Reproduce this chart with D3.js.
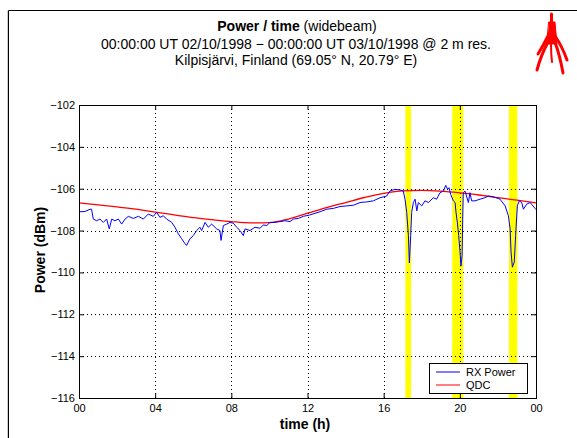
<!DOCTYPE html>
<html>
<head>
<meta charset="utf-8">
<script src="https://cdn.jsdelivr.net/npm/d3@7"></script>
<style>
  body { margin: 0; background: #fff; }
  svg { display: block; font-family: "Liberation Sans", Arial, Helvetica, sans-serif; }
</style>
</head>
<body>
<div id="chart"></div>
<script>
//------------------------DATA------------------------//
const titleLines = ["00:00:00 UT 02/10/1998 \u2212 00:00:00 UT 03/10/1998 @ 2 m res.",
                    "Kilpisj\u00e4rvi, Finland (69.05\u00b0 N, 20.79\u00b0 E)"];
const xTicks = [0, 4, 8, 12, 16, 20, 24];
const yTicks = [-116, -114, -112, -110, -108, -106, -104, -102];

// highlighted intervals (hours)
const bandStart = [17.14, 19.60, 22.58];
const bandEnd   = [17.44, 20.18, 23.02];

// QDC curve
const qdcHours = [0,1,2,3,4,5,6,7,8,9,10,11,12,13,14,15,16,17,18,19,20,21,22,23,24];
const qdcPower = [-106.68,-106.77,-106.87,-106.98,-107.12,-107.25,-107.38,-107.48,-107.57,-107.63,
                  -107.62,-107.45,-107.17,-106.90,-106.66,-106.42,-106.22,-106.10,-106.08,-106.12,
                  -106.20,-106.30,-106.43,-106.55,-106.68];

// RX power
const rxHours = [0.00,0.31,0.58,0.66,0.75,0.93,1.10,1.28,1.45,1.59,1.72,1.89,2.07,2.24,2.42,2.59,2.85,3.12,3.38,3.64,
                 3.90,4.08,4.25,4.43,4.60,4.87,5.04,5.22,5.39,5.57,5.65,5.83,6.00,6.18,6.35,6.44,6.62,6.79,6.97,7.23,
                 7.40,7.46,7.58,7.76,7.93,8.11,8.28,8.46,8.63,8.72,8.98,9.24,9.51,9.68,9.86,10.03,10.29,10.56,10.82,11.08,
                 11.26,11.52,11.78,12.10,12.66,13.01,13.36,13.71,14.06,14.41,14.76,15.11,15.46,15.81,16.16,16.33,16.60,16.86,17.03,17.12,
                 17.21,17.30,17.35,17.42,17.47,17.56,17.65,17.74,17.82,18.00,18.17,18.35,18.61,18.78,18.96,19.14,19.26,19.36,19.43,19.52,
                 19.66,19.75,19.80,19.87,19.94,20.01,20.06,20.12,20.15,20.18,20.27,20.45,20.53,20.62,20.80,21.06,21.32,21.50,21.76,22.11,
                 22.38,22.55,22.64,22.69,22.76,22.86,22.93,23.02,23.12,23.25,23.34,23.51,23.69,23.95,24.00];
const rxPower = [-107.10,-107.09,-106.98,-106.98,-107.45,-107.53,-107.45,-107.61,-107.45,-107.92,-107.45,-107.53,-107.45,-107.69,-107.45,-107.32,-107.42,-107.32,-107.45,-107.21,
                 -107.32,-107.13,-107.37,-107.29,-107.45,-107.61,-107.84,-108.16,-108.39,-108.63,-108.71,-108.39,-108.24,-108.00,-107.84,-108.00,-107.61,-107.84,-107.69,-107.92,
                 -108.00,-108.47,-107.76,-107.69,-107.61,-107.65,-107.84,-108.00,-108.24,-107.92,-108.00,-107.84,-107.89,-107.73,-107.76,-107.61,-107.61,-107.57,-107.53,-107.57,
                 -107.45,-107.42,-107.32,-107.26,-107.10,-106.98,-106.94,-106.85,-106.82,-106.79,-106.66,-106.63,-106.58,-106.43,-106.35,-106.11,-106.03,-106.06,-106.11,-106.50,
                 -107.13,-108.24,-109.55,-108.24,-107.13,-106.66,-106.50,-107.06,-106.66,-106.82,-106.58,-106.66,-106.43,-106.50,-106.19,-106.11,-105.84,-106.03,-105.95,-106.27,
                 -106.58,-106.66,-107.13,-107.61,-108.24,-109.02,-109.70,-109.18,-107.45,-106.19,-106.11,-106.66,-106.19,-106.58,-106.58,-106.50,-106.43,-106.35,-106.38,-106.50,
                 -106.82,-107.29,-107.92,-109.02,-109.75,-109.50,-108.24,-106.82,-106.58,-106.66,-106.98,-106.74,-106.66,-106.94,-107.00];

//------------------------SVG------------------------//
const W = 577, H = 438;
const pLeft = 79, pRight = 536, pTop = 105, pBottom = 398;

const svg = d3.select("#chart").append("svg")
  .attr("width", W).attr("height", H);

// outer frame (cut at right/bottom)
svg.append("path").attr("d", "M7.5,438 V10.5").style("stroke", "#ccc").style("fill", "none");
svg.append("path").attr("d", "M8.5,438 V10.5 H577").style("stroke", "#000").style("fill", "none");

// title
const title = svg.append("text").attr("x", 297).attr("y", 31).attr("text-anchor", "middle")
  .style("font-size", "14px");
title.append("tspan").style("font-weight", "bold").text("Power / time");
title.append("tspan").text(" (widebeam)");
svg.selectAll("text.sub").data(titleLines).enter().append("text")
  .attr("class", "sub")
  .attr("x", 296).attr("y", (d, i) => 48.5 + i * 16.5)
  .attr("text-anchor", "middle").style("font-size", "14px")
  .text(d => d);

// logo
const logo = svg.append("g").style("stroke", "#f00").style("fill", "none").style("stroke-linecap", "round");
logo.append("path").attr("d", "M551.5,14 L551.5,30").style("stroke-width", 3);
logo.append("path").attr("d", "M549,22 L555,22 L557,44 L547,44 Z").style("fill", "#f00").style("stroke-width", 1);
logo.append("path").attr("d", "M548,42 Q541,55 537,70").style("stroke-width", 3);
logo.append("path").attr("d", "M548,36 Q543,46 538,54").style("stroke-width", 3);
logo.append("path").attr("d", "M555,42 Q560,56 563,73").style("stroke-width", 3);
logo.append("path").attr("d", "M555,36 Q562,46 567,60").style("stroke-width", 3);
logo.append("path").attr("d", "M551,44 Q551,54 552,62").style("stroke-width", 2);

//------------------------SCALES------------------------//
const x = d3.scaleLinear().domain([0, 24]).range([pLeft, pRight]);
const y = d3.scaleLinear().domain([-116, -102]).range([pBottom, pTop]);

// yellow bands
svg.selectAll("rect.band").data(bandStart).enter().append("rect")
  .attr("class", "band")
  .attr("x", (d) => x(d))
  .attr("y", pTop)
  .attr("width", (d, i) => x(bandEnd[i]) - x(d))
  .attr("height", pBottom - pTop)
  .style("fill", "#ffff00");

// grid
const grid = svg.append("g").style("stroke", "#000").style("stroke-dasharray", "1,3").style("stroke-width", 1);
grid.selectAll("line.gx").data(xTicks.slice(1, -1)).enter().append("line")
  .attr("x1", d => Math.round(x(d)) + 0.5).attr("x2", d => Math.round(x(d)) + 0.5)
  .attr("y1", pTop).attr("y2", pBottom);
grid.selectAll("line.gy").data(yTicks.slice(1, -1)).enter().append("line")
  .attr("y1", d => Math.round(y(d)) + 0.5).attr("y2", d => Math.round(y(d)) + 0.5)
  .attr("x1", pLeft).attr("x2", pRight);

//------------------------LINES------------------------//
const qdc = qdcHours.map((h, i) => ({h: h, v: qdcPower[i]}));
const rx = rxHours.map((h, i) => ({h: h, v: rxPower[i]}));

svg.append("path").datum(qdc)
  .attr("d", d3.line().curve(d3.curveMonotoneX).x(d => x(d.h)).y(d => y(d.v)))
  .style("fill", "none").style("stroke", "#ff0000").style("stroke-width", 1.3);

svg.append("path").datum(rx)
  .attr("d", d3.line().x(d => x(d.h)).y(d => y(d.v)))
  .style("fill", "none").style("stroke", "#0000ff").style("stroke-width", 1);

//------------------------AXES------------------------//
const fmtX = d => String(d % 24).padStart(2, "0");

const xAxis = svg.append("g").attr("transform", "translate(0," + pBottom + ")")
  .call(d3.axisBottom(x).tickValues(xTicks).tickSize(-5).tickPadding(6).tickFormat(fmtX));
const xAxisTop = svg.append("g").attr("transform", "translate(0," + pTop + ")")
  .call(d3.axisTop(x).tickValues(xTicks).tickSize(-5).tickFormat(""));
const yAxis = svg.append("g").attr("transform", "translate(" + pLeft + ",0)")
  .call(d3.axisLeft(y).tickValues(yTicks).tickSize(-5).tickPadding(4));
const yAxisRight = svg.append("g").attr("transform", "translate(" + pRight + ",0)")
  .call(d3.axisRight(y).tickValues(yTicks).tickSize(-5).tickFormat(""));

[xAxis, xAxisTop, yAxis, yAxisRight].forEach(function(a) {
  a.select(".domain").remove();
  a.selectAll("line").style("stroke", "#000");
  a.selectAll("text").style("font-size", "11px").style("fill", "#000")
    .style("font-family", "'Liberation Sans', Arial, sans-serif");
});

svg.append("rect").attr("x", pLeft + 0.5).attr("y", pTop + 0.5)
  .attr("width", pRight - pLeft).attr("height", pBottom - pTop)
  .style("fill", "none").style("stroke", "#000");

// axis labels
svg.append("text").attr("x", 305).attr("y", 429).attr("text-anchor", "middle")
  .style("font-size", "14px").style("font-weight", "bold").text("time (h)");
svg.append("text").attr("transform", "translate(45,250) rotate(-90)").attr("text-anchor", "middle")
  .style("font-size", "14px").style("font-weight", "bold").text("Power (dBm)");

//------------------------LEGEND------------------------//
const legendNames = ["RX Power", "QDC"];
const legendColors = ["#0000ff", "#ff0000"];
const legend = svg.append("g");
legend.append("rect").attr("x", 429.5).attr("y", 363.5).attr("width", 98).attr("height", 30)
  .style("fill", "#fff").style("stroke", "#000");
legend.selectAll("line").data(legendNames).enter().append("line")
  .attr("x1", 436).attr("x2", 460)
  .attr("y1", (d, i) => 372 + i * 13).attr("y2", (d, i) => 372 + i * 13)
  .style("stroke", (d, i) => legendColors[i]);
legend.selectAll("text").data(legendNames).enter().append("text")
  .attr("x", 466).attr("y", (d, i) => 376 + i * 13)
  .style("font-size", "11px").text(d => d);
</script>
</body>
</html>
